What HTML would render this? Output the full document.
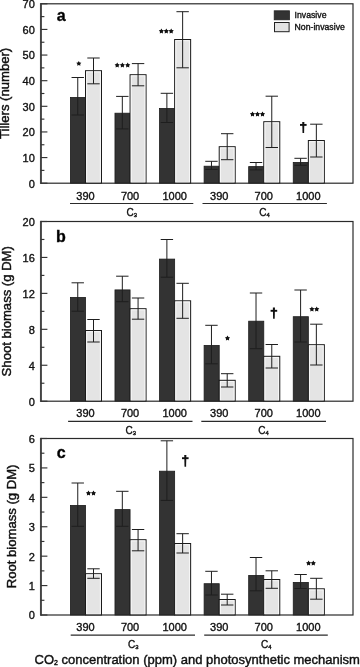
<!DOCTYPE html>
<html><head><meta charset="utf-8"><title>Figure</title>
<style>
html,body{margin:0;padding:0;background:#fff;width:360px;height:667px;overflow:hidden;}
svg{display:block;font-family:"Liberation Sans",sans-serif;will-change:transform;}
</style></head><body>
<svg width="360" height="667" viewBox="0 0 360 667"><rect x="70.40" y="97.40" width="15.10" height="85.80" fill="#333333" stroke="#1c1c1c" stroke-width="0.8"/>
<rect x="85.50" y="70.70" width="16.00" height="112.50" fill="#e4e4e4" stroke="#1a1a1a" stroke-width="1"/>
<rect x="86.70" y="71.90" width="13.60" height="110.50" fill="none" stroke="#f8f8f8" stroke-width="0.9"/>
<line x1="77.75" y1="77.50" x2="77.75" y2="115.00" stroke="#1e1e1e" stroke-width="1"/>
<line x1="71.55" y1="77.50" x2="83.95" y2="77.50" stroke="#1e1e1e" stroke-width="1"/>
<line x1="71.55" y1="115.00" x2="83.95" y2="115.00" stroke="#1e1e1e" stroke-width="1"/>
<line x1="93.50" y1="58.00" x2="93.50" y2="83.80" stroke="#1e1e1e" stroke-width="1"/>
<line x1="87.30" y1="58.00" x2="99.70" y2="58.00" stroke="#1e1e1e" stroke-width="1"/>
<line x1="87.30" y1="83.80" x2="99.70" y2="83.80" stroke="#1e1e1e" stroke-width="1"/>
<rect x="114.97" y="113.20" width="15.10" height="70.00" fill="#333333" stroke="#1c1c1c" stroke-width="0.8"/>
<rect x="130.07" y="74.70" width="16.00" height="108.50" fill="#e4e4e4" stroke="#1a1a1a" stroke-width="1"/>
<rect x="131.27" y="75.90" width="13.60" height="106.50" fill="none" stroke="#f8f8f8" stroke-width="0.9"/>
<line x1="122.32" y1="96.40" x2="122.32" y2="128.90" stroke="#1e1e1e" stroke-width="1"/>
<line x1="116.12" y1="96.40" x2="128.52" y2="96.40" stroke="#1e1e1e" stroke-width="1"/>
<line x1="116.12" y1="128.90" x2="128.52" y2="128.90" stroke="#1e1e1e" stroke-width="1"/>
<line x1="138.07" y1="63.60" x2="138.07" y2="85.80" stroke="#1e1e1e" stroke-width="1"/>
<line x1="131.87" y1="63.60" x2="144.27" y2="63.60" stroke="#1e1e1e" stroke-width="1"/>
<line x1="131.87" y1="85.80" x2="144.27" y2="85.80" stroke="#1e1e1e" stroke-width="1"/>
<rect x="159.54" y="108.40" width="15.10" height="74.80" fill="#333333" stroke="#1c1c1c" stroke-width="0.8"/>
<rect x="174.64" y="39.50" width="16.00" height="143.70" fill="#e4e4e4" stroke="#1a1a1a" stroke-width="1"/>
<rect x="175.84" y="40.70" width="13.60" height="141.70" fill="none" stroke="#f8f8f8" stroke-width="0.9"/>
<line x1="166.89" y1="93.30" x2="166.89" y2="122.50" stroke="#1e1e1e" stroke-width="1"/>
<line x1="160.69" y1="93.30" x2="173.09" y2="93.30" stroke="#1e1e1e" stroke-width="1"/>
<line x1="160.69" y1="122.50" x2="173.09" y2="122.50" stroke="#1e1e1e" stroke-width="1"/>
<line x1="182.64" y1="11.70" x2="182.64" y2="67.80" stroke="#1e1e1e" stroke-width="1"/>
<line x1="176.44" y1="11.70" x2="188.84" y2="11.70" stroke="#1e1e1e" stroke-width="1"/>
<line x1="176.44" y1="67.80" x2="188.84" y2="67.80" stroke="#1e1e1e" stroke-width="1"/>
<rect x="204.11" y="166.20" width="15.10" height="17.00" fill="#333333" stroke="#1c1c1c" stroke-width="0.8"/>
<rect x="219.21" y="146.70" width="16.00" height="36.50" fill="#e4e4e4" stroke="#1a1a1a" stroke-width="1"/>
<rect x="220.41" y="147.90" width="13.60" height="34.50" fill="none" stroke="#f8f8f8" stroke-width="0.9"/>
<line x1="211.46" y1="161.30" x2="211.46" y2="169.40" stroke="#1e1e1e" stroke-width="1"/>
<line x1="205.26" y1="161.30" x2="217.66" y2="161.30" stroke="#1e1e1e" stroke-width="1"/>
<line x1="205.26" y1="169.40" x2="217.66" y2="169.40" stroke="#1e1e1e" stroke-width="1"/>
<line x1="227.21" y1="133.70" x2="227.21" y2="159.70" stroke="#1e1e1e" stroke-width="1"/>
<line x1="221.01" y1="133.70" x2="233.41" y2="133.70" stroke="#1e1e1e" stroke-width="1"/>
<line x1="221.01" y1="159.70" x2="233.41" y2="159.70" stroke="#1e1e1e" stroke-width="1"/>
<rect x="248.68" y="166.60" width="15.10" height="16.60" fill="#333333" stroke="#1c1c1c" stroke-width="0.8"/>
<rect x="263.78" y="121.70" width="16.00" height="61.50" fill="#e4e4e4" stroke="#1a1a1a" stroke-width="1"/>
<rect x="264.98" y="122.90" width="13.60" height="59.50" fill="none" stroke="#f8f8f8" stroke-width="0.9"/>
<line x1="256.03" y1="162.50" x2="256.03" y2="169.90" stroke="#1e1e1e" stroke-width="1"/>
<line x1="249.83" y1="162.50" x2="262.23" y2="162.50" stroke="#1e1e1e" stroke-width="1"/>
<line x1="249.83" y1="169.90" x2="262.23" y2="169.90" stroke="#1e1e1e" stroke-width="1"/>
<line x1="271.78" y1="96.20" x2="271.78" y2="147.50" stroke="#1e1e1e" stroke-width="1"/>
<line x1="265.58" y1="96.20" x2="277.98" y2="96.20" stroke="#1e1e1e" stroke-width="1"/>
<line x1="265.58" y1="147.50" x2="277.98" y2="147.50" stroke="#1e1e1e" stroke-width="1"/>
<rect x="293.25" y="162.40" width="15.10" height="20.80" fill="#333333" stroke="#1c1c1c" stroke-width="0.8"/>
<rect x="308.35" y="140.50" width="16.00" height="42.70" fill="#e4e4e4" stroke="#1a1a1a" stroke-width="1"/>
<rect x="309.55" y="141.70" width="13.60" height="40.70" fill="none" stroke="#f8f8f8" stroke-width="0.9"/>
<line x1="300.60" y1="158.30" x2="300.60" y2="165.30" stroke="#1e1e1e" stroke-width="1"/>
<line x1="294.40" y1="158.30" x2="306.80" y2="158.30" stroke="#1e1e1e" stroke-width="1"/>
<line x1="294.40" y1="165.30" x2="306.80" y2="165.30" stroke="#1e1e1e" stroke-width="1"/>
<line x1="316.35" y1="124.20" x2="316.35" y2="157.00" stroke="#1e1e1e" stroke-width="1"/>
<line x1="310.15" y1="124.20" x2="322.55" y2="124.20" stroke="#1e1e1e" stroke-width="1"/>
<line x1="310.15" y1="157.00" x2="322.55" y2="157.00" stroke="#1e1e1e" stroke-width="1"/>
<rect x="40.80" y="3.80" width="312.20" height="179.40" fill="none" stroke="#2a2a2a" stroke-width="1.2"/>
<line x1="40.90" y1="3.20" x2="40.90" y2="183.80" stroke="#444" stroke-width="1.9"/>
<line x1="40.80" y1="183.20" x2="47.40" y2="183.20" stroke="#333" stroke-width="1.15"/>
<line x1="40.80" y1="170.39" x2="44.40" y2="170.39" stroke="#333" stroke-width="1.15"/>
<line x1="40.80" y1="157.57" x2="47.40" y2="157.57" stroke="#333" stroke-width="1.15"/>
<line x1="40.80" y1="144.76" x2="44.40" y2="144.76" stroke="#333" stroke-width="1.15"/>
<line x1="40.80" y1="131.94" x2="47.40" y2="131.94" stroke="#333" stroke-width="1.15"/>
<line x1="40.80" y1="119.13" x2="44.40" y2="119.13" stroke="#333" stroke-width="1.15"/>
<line x1="40.80" y1="106.31" x2="47.40" y2="106.31" stroke="#333" stroke-width="1.15"/>
<line x1="40.80" y1="93.50" x2="44.40" y2="93.50" stroke="#333" stroke-width="1.15"/>
<line x1="40.80" y1="80.69" x2="47.40" y2="80.69" stroke="#333" stroke-width="1.15"/>
<line x1="40.80" y1="67.87" x2="44.40" y2="67.87" stroke="#333" stroke-width="1.15"/>
<line x1="40.80" y1="55.06" x2="47.40" y2="55.06" stroke="#333" stroke-width="1.15"/>
<line x1="40.80" y1="42.24" x2="44.40" y2="42.24" stroke="#333" stroke-width="1.15"/>
<line x1="40.80" y1="29.43" x2="47.40" y2="29.43" stroke="#333" stroke-width="1.15"/>
<line x1="40.80" y1="16.61" x2="44.40" y2="16.61" stroke="#333" stroke-width="1.15"/>
<line x1="40.80" y1="3.80" x2="47.40" y2="3.80" stroke="#333" stroke-width="1.15"/>
<text x="34.8" y="187.55" font-size="11" text-anchor="end" font-family="'Liberation Sans', sans-serif" stroke="#111" stroke-width="0.36" fill="#111">0</text>
<text x="34.8" y="161.92" font-size="11" text-anchor="end" font-family="'Liberation Sans', sans-serif" stroke="#111" stroke-width="0.36" fill="#111">10</text>
<text x="34.8" y="136.29" font-size="11" text-anchor="end" font-family="'Liberation Sans', sans-serif" stroke="#111" stroke-width="0.36" fill="#111">20</text>
<text x="34.8" y="110.66" font-size="11" text-anchor="end" font-family="'Liberation Sans', sans-serif" stroke="#111" stroke-width="0.36" fill="#111">30</text>
<text x="34.8" y="85.04" font-size="11" text-anchor="end" font-family="'Liberation Sans', sans-serif" stroke="#111" stroke-width="0.36" fill="#111">40</text>
<text x="34.8" y="59.41" font-size="11" text-anchor="end" font-family="'Liberation Sans', sans-serif" stroke="#111" stroke-width="0.36" fill="#111">50</text>
<text x="34.8" y="33.78" font-size="11" text-anchor="end" font-family="'Liberation Sans', sans-serif" stroke="#111" stroke-width="0.36" fill="#111">60</text>
<text x="34.8" y="8.15" font-size="11" text-anchor="end" font-family="'Liberation Sans', sans-serif" stroke="#111" stroke-width="0.36" fill="#111">70</text>
<text x="56.70" y="20.50" font-size="16" font-weight="bold" font-family="'Liberation Sans', sans-serif" stroke="#111" stroke-width="0.36" fill="#000">a</text>
<text x="85.50" y="199.60" font-size="11" text-anchor="middle" font-family="'Liberation Sans', sans-serif" stroke="#111" stroke-width="0.36" fill="#111">390</text>
<text x="130.07" y="199.60" font-size="11" text-anchor="middle" font-family="'Liberation Sans', sans-serif" stroke="#111" stroke-width="0.36" fill="#111">700</text>
<text x="174.64" y="199.60" font-size="11" text-anchor="middle" font-family="'Liberation Sans', sans-serif" stroke="#111" stroke-width="0.36" fill="#111">1000</text>
<text x="219.21" y="199.60" font-size="11" text-anchor="middle" font-family="'Liberation Sans', sans-serif" stroke="#111" stroke-width="0.36" fill="#111">390</text>
<text x="263.78" y="199.60" font-size="11" text-anchor="middle" font-family="'Liberation Sans', sans-serif" stroke="#111" stroke-width="0.36" fill="#111">700</text>
<text x="308.35" y="199.60" font-size="11" text-anchor="middle" font-family="'Liberation Sans', sans-serif" stroke="#111" stroke-width="0.36" fill="#111">1000</text>
<line x1="70.00" y1="203.50" x2="193.30" y2="203.50" stroke="#2a2a2a" stroke-width="1.2"/>
<line x1="202.50" y1="203.50" x2="326.90" y2="203.50" stroke="#2a2a2a" stroke-width="1.2"/>
<text x="126.40" y="215.60" font-size="10" font-family="'Liberation Sans', sans-serif" stroke="#111" stroke-width="0.36" fill="#111">C<tspan font-size="5.9" dy="1.1">3</tspan></text>
<text x="259.20" y="215.60" font-size="10" font-family="'Liberation Sans', sans-serif" stroke="#111" stroke-width="0.36" fill="#111">C<tspan font-size="5.9" dy="1.1">4</tspan></text>
<text transform="translate(9.40 93.40) rotate(-90)" x="0" y="0" font-size="13.1" text-anchor="middle" font-family="'Liberation Sans', sans-serif" stroke="#111" stroke-width="0.44" fill="#111">Tillers (number)</text>
<polygon points="78.80,60.90 79.67,62.40 81.37,62.77 80.21,64.06 80.39,65.78 78.80,65.09 77.21,65.78 77.39,64.06 76.23,62.77 77.93,62.40" fill="#111"/>
<polygon points="117.20,62.60 118.07,64.10 119.77,64.47 118.61,65.76 118.79,67.48 117.20,66.78 115.61,67.48 115.79,65.76 114.63,64.47 116.33,64.10" fill="#111"/>
<polygon points="122.40,62.60 123.27,64.10 124.97,64.47 123.81,65.76 123.99,67.48 122.40,66.78 120.81,67.48 120.99,65.76 119.83,64.47 121.53,64.10" fill="#111"/>
<polygon points="127.70,62.60 128.57,64.10 130.27,64.47 129.11,65.76 129.29,67.48 127.70,66.78 126.11,67.48 126.29,65.76 125.13,64.47 126.83,64.10" fill="#111"/>
<polygon points="161.40,28.50 162.27,30.00 163.97,30.37 162.81,31.66 162.99,33.38 161.40,32.69 159.81,33.38 159.99,31.66 158.83,30.37 160.53,30.00" fill="#111"/>
<polygon points="166.30,28.50 167.17,30.00 168.87,30.37 167.71,31.66 167.89,33.38 166.30,32.69 164.71,33.38 164.89,31.66 163.73,30.37 165.43,30.00" fill="#111"/>
<polygon points="171.20,28.50 172.07,30.00 173.77,30.37 172.61,31.66 172.79,33.38 171.20,32.69 169.61,33.38 169.79,31.66 168.63,30.37 170.33,30.00" fill="#111"/>
<polygon points="252.50,111.50 253.37,113.00 255.07,113.37 253.91,114.66 254.09,116.38 252.50,115.69 250.91,116.38 251.09,114.66 249.93,113.37 251.63,113.00" fill="#111"/>
<polygon points="257.50,111.50 258.37,113.00 260.07,113.37 258.91,114.66 259.09,116.38 257.50,115.69 255.91,116.38 256.09,114.66 254.93,113.37 256.63,113.00" fill="#111"/>
<polygon points="262.50,111.50 263.37,113.00 265.07,113.37 263.91,114.66 264.09,116.38 262.50,115.69 260.91,116.38 261.09,114.66 259.93,113.37 261.63,113.00" fill="#111"/>
<path d="M302.25 122.00 L304.35 122.00 L304.10 133.00 L302.50 133.00 Z" fill="#111"/><rect x="300.00" y="123.95" width="6.6" height="1.9" fill="#111"/>
<rect x="70.40" y="297.40" width="15.10" height="103.80" fill="#333333" stroke="#1c1c1c" stroke-width="0.8"/>
<rect x="85.50" y="330.50" width="16.00" height="70.70" fill="#e4e4e4" stroke="#1a1a1a" stroke-width="1"/>
<rect x="86.70" y="331.70" width="13.60" height="68.70" fill="none" stroke="#f8f8f8" stroke-width="0.9"/>
<line x1="77.75" y1="282.80" x2="77.75" y2="311.20" stroke="#1e1e1e" stroke-width="1"/>
<line x1="71.55" y1="282.80" x2="83.95" y2="282.80" stroke="#1e1e1e" stroke-width="1"/>
<line x1="71.55" y1="311.20" x2="83.95" y2="311.20" stroke="#1e1e1e" stroke-width="1"/>
<line x1="93.50" y1="319.50" x2="93.50" y2="342.00" stroke="#1e1e1e" stroke-width="1"/>
<line x1="87.30" y1="319.50" x2="99.70" y2="319.50" stroke="#1e1e1e" stroke-width="1"/>
<line x1="87.30" y1="342.00" x2="99.70" y2="342.00" stroke="#1e1e1e" stroke-width="1"/>
<rect x="114.97" y="289.90" width="15.10" height="111.30" fill="#333333" stroke="#1c1c1c" stroke-width="0.8"/>
<rect x="130.07" y="308.70" width="16.00" height="92.50" fill="#e4e4e4" stroke="#1a1a1a" stroke-width="1"/>
<rect x="131.27" y="309.90" width="13.60" height="90.50" fill="none" stroke="#f8f8f8" stroke-width="0.9"/>
<line x1="122.32" y1="276.20" x2="122.32" y2="301.70" stroke="#1e1e1e" stroke-width="1"/>
<line x1="116.12" y1="276.20" x2="128.52" y2="276.20" stroke="#1e1e1e" stroke-width="1"/>
<line x1="116.12" y1="301.70" x2="128.52" y2="301.70" stroke="#1e1e1e" stroke-width="1"/>
<line x1="138.07" y1="298.00" x2="138.07" y2="319.20" stroke="#1e1e1e" stroke-width="1"/>
<line x1="131.87" y1="298.00" x2="144.27" y2="298.00" stroke="#1e1e1e" stroke-width="1"/>
<line x1="131.87" y1="319.20" x2="144.27" y2="319.20" stroke="#1e1e1e" stroke-width="1"/>
<rect x="159.54" y="259.10" width="15.10" height="142.10" fill="#333333" stroke="#1c1c1c" stroke-width="0.8"/>
<rect x="174.64" y="300.80" width="16.00" height="100.40" fill="#e4e4e4" stroke="#1a1a1a" stroke-width="1"/>
<rect x="175.84" y="302.00" width="13.60" height="98.40" fill="none" stroke="#f8f8f8" stroke-width="0.9"/>
<line x1="166.89" y1="239.50" x2="166.89" y2="277.20" stroke="#1e1e1e" stroke-width="1"/>
<line x1="160.69" y1="239.50" x2="173.09" y2="239.50" stroke="#1e1e1e" stroke-width="1"/>
<line x1="160.69" y1="277.20" x2="173.09" y2="277.20" stroke="#1e1e1e" stroke-width="1"/>
<line x1="182.64" y1="283.30" x2="182.64" y2="318.30" stroke="#1e1e1e" stroke-width="1"/>
<line x1="176.44" y1="283.30" x2="188.84" y2="283.30" stroke="#1e1e1e" stroke-width="1"/>
<line x1="176.44" y1="318.30" x2="188.84" y2="318.30" stroke="#1e1e1e" stroke-width="1"/>
<rect x="204.11" y="345.40" width="15.10" height="55.80" fill="#333333" stroke="#1c1c1c" stroke-width="0.8"/>
<rect x="219.21" y="380.30" width="16.00" height="20.90" fill="#e4e4e4" stroke="#1a1a1a" stroke-width="1"/>
<rect x="220.41" y="381.50" width="13.60" height="18.90" fill="none" stroke="#f8f8f8" stroke-width="0.9"/>
<line x1="211.46" y1="325.30" x2="211.46" y2="363.80" stroke="#1e1e1e" stroke-width="1"/>
<line x1="205.26" y1="325.30" x2="217.66" y2="325.30" stroke="#1e1e1e" stroke-width="1"/>
<line x1="205.26" y1="363.80" x2="217.66" y2="363.80" stroke="#1e1e1e" stroke-width="1"/>
<line x1="227.21" y1="373.70" x2="227.21" y2="387.00" stroke="#1e1e1e" stroke-width="1"/>
<line x1="221.01" y1="373.70" x2="233.41" y2="373.70" stroke="#1e1e1e" stroke-width="1"/>
<line x1="221.01" y1="387.00" x2="233.41" y2="387.00" stroke="#1e1e1e" stroke-width="1"/>
<rect x="248.68" y="321.20" width="15.10" height="80.00" fill="#333333" stroke="#1c1c1c" stroke-width="0.8"/>
<rect x="263.78" y="356.30" width="16.00" height="44.90" fill="#e4e4e4" stroke="#1a1a1a" stroke-width="1"/>
<rect x="264.98" y="357.50" width="13.60" height="42.90" fill="none" stroke="#f8f8f8" stroke-width="0.9"/>
<line x1="256.03" y1="293.00" x2="256.03" y2="348.70" stroke="#1e1e1e" stroke-width="1"/>
<line x1="249.83" y1="293.00" x2="262.23" y2="293.00" stroke="#1e1e1e" stroke-width="1"/>
<line x1="249.83" y1="348.70" x2="262.23" y2="348.70" stroke="#1e1e1e" stroke-width="1"/>
<line x1="271.78" y1="344.50" x2="271.78" y2="368.00" stroke="#1e1e1e" stroke-width="1"/>
<line x1="265.58" y1="344.50" x2="277.98" y2="344.50" stroke="#1e1e1e" stroke-width="1"/>
<line x1="265.58" y1="368.00" x2="277.98" y2="368.00" stroke="#1e1e1e" stroke-width="1"/>
<rect x="293.25" y="316.70" width="15.10" height="84.50" fill="#333333" stroke="#1c1c1c" stroke-width="0.8"/>
<rect x="308.35" y="344.70" width="16.00" height="56.50" fill="#e4e4e4" stroke="#1a1a1a" stroke-width="1"/>
<rect x="309.55" y="345.90" width="13.60" height="54.50" fill="none" stroke="#f8f8f8" stroke-width="0.9"/>
<line x1="300.60" y1="290.00" x2="300.60" y2="342.00" stroke="#1e1e1e" stroke-width="1"/>
<line x1="294.40" y1="290.00" x2="306.80" y2="290.00" stroke="#1e1e1e" stroke-width="1"/>
<line x1="294.40" y1="342.00" x2="306.80" y2="342.00" stroke="#1e1e1e" stroke-width="1"/>
<line x1="316.35" y1="324.20" x2="316.35" y2="365.00" stroke="#1e1e1e" stroke-width="1"/>
<line x1="310.15" y1="324.20" x2="322.55" y2="324.20" stroke="#1e1e1e" stroke-width="1"/>
<line x1="310.15" y1="365.00" x2="322.55" y2="365.00" stroke="#1e1e1e" stroke-width="1"/>
<rect x="40.80" y="221.50" width="312.20" height="179.70" fill="none" stroke="#2a2a2a" stroke-width="1.2"/>
<line x1="40.90" y1="220.90" x2="40.90" y2="401.80" stroke="#444" stroke-width="1.9"/>
<line x1="40.80" y1="401.20" x2="47.40" y2="401.20" stroke="#333" stroke-width="1.15"/>
<line x1="40.80" y1="383.23" x2="44.40" y2="383.23" stroke="#333" stroke-width="1.15"/>
<line x1="40.80" y1="365.26" x2="47.40" y2="365.26" stroke="#333" stroke-width="1.15"/>
<line x1="40.80" y1="347.29" x2="44.40" y2="347.29" stroke="#333" stroke-width="1.15"/>
<line x1="40.80" y1="329.32" x2="47.40" y2="329.32" stroke="#333" stroke-width="1.15"/>
<line x1="40.80" y1="311.35" x2="44.40" y2="311.35" stroke="#333" stroke-width="1.15"/>
<line x1="40.80" y1="293.38" x2="47.40" y2="293.38" stroke="#333" stroke-width="1.15"/>
<line x1="40.80" y1="275.41" x2="44.40" y2="275.41" stroke="#333" stroke-width="1.15"/>
<line x1="40.80" y1="257.44" x2="47.40" y2="257.44" stroke="#333" stroke-width="1.15"/>
<line x1="40.80" y1="239.47" x2="44.40" y2="239.47" stroke="#333" stroke-width="1.15"/>
<line x1="40.80" y1="221.50" x2="47.40" y2="221.50" stroke="#333" stroke-width="1.15"/>
<text x="34.8" y="405.55" font-size="11" text-anchor="end" font-family="'Liberation Sans', sans-serif" stroke="#111" stroke-width="0.36" fill="#111">0</text>
<text x="34.8" y="369.61" font-size="11" text-anchor="end" font-family="'Liberation Sans', sans-serif" stroke="#111" stroke-width="0.36" fill="#111">4</text>
<text x="34.8" y="333.67" font-size="11" text-anchor="end" font-family="'Liberation Sans', sans-serif" stroke="#111" stroke-width="0.36" fill="#111">8</text>
<text x="34.8" y="297.73" font-size="11" text-anchor="end" font-family="'Liberation Sans', sans-serif" stroke="#111" stroke-width="0.36" fill="#111">12</text>
<text x="34.8" y="261.79" font-size="11" text-anchor="end" font-family="'Liberation Sans', sans-serif" stroke="#111" stroke-width="0.36" fill="#111">16</text>
<text x="34.8" y="225.85" font-size="11" text-anchor="end" font-family="'Liberation Sans', sans-serif" stroke="#111" stroke-width="0.36" fill="#111">20</text>
<text x="55.90" y="241.90" font-size="16" font-weight="bold" font-family="'Liberation Sans', sans-serif" stroke="#111" stroke-width="0.36" fill="#000">b</text>
<text x="85.50" y="417.10" font-size="11" text-anchor="middle" font-family="'Liberation Sans', sans-serif" stroke="#111" stroke-width="0.36" fill="#111">390</text>
<text x="130.07" y="417.10" font-size="11" text-anchor="middle" font-family="'Liberation Sans', sans-serif" stroke="#111" stroke-width="0.36" fill="#111">700</text>
<text x="174.64" y="417.10" font-size="11" text-anchor="middle" font-family="'Liberation Sans', sans-serif" stroke="#111" stroke-width="0.36" fill="#111">1000</text>
<text x="219.21" y="417.10" font-size="11" text-anchor="middle" font-family="'Liberation Sans', sans-serif" stroke="#111" stroke-width="0.36" fill="#111">390</text>
<text x="263.78" y="417.10" font-size="11" text-anchor="middle" font-family="'Liberation Sans', sans-serif" stroke="#111" stroke-width="0.36" fill="#111">700</text>
<text x="308.35" y="417.10" font-size="11" text-anchor="middle" font-family="'Liberation Sans', sans-serif" stroke="#111" stroke-width="0.36" fill="#111">1000</text>
<line x1="68.10" y1="421.30" x2="192.50" y2="421.30" stroke="#2a2a2a" stroke-width="1.2"/>
<line x1="201.30" y1="421.30" x2="326.00" y2="421.30" stroke="#2a2a2a" stroke-width="1.2"/>
<text x="125.50" y="434.00" font-size="10" font-family="'Liberation Sans', sans-serif" stroke="#111" stroke-width="0.36" fill="#111">C<tspan font-size="5.9" dy="1.1">3</tspan></text>
<text x="258.20" y="434.00" font-size="10" font-family="'Liberation Sans', sans-serif" stroke="#111" stroke-width="0.36" fill="#111">C<tspan font-size="5.9" dy="1.1">4</tspan></text>
<text transform="translate(10.50 311.25) rotate(-90)" x="0" y="0" font-size="13.1" text-anchor="middle" font-family="'Liberation Sans', sans-serif" stroke="#111" stroke-width="0.44" fill="#111">Shoot biomass (g DM)</text>
<polygon points="227.50,335.60 228.37,337.10 230.07,337.47 228.91,338.76 229.09,340.48 227.50,339.79 225.91,340.48 226.09,338.76 224.93,337.47 226.63,337.10" fill="#111"/>
<path d="M272.85 307.40 L274.95 307.40 L274.70 318.80 L273.10 318.80 Z" fill="#111"/><rect x="270.60" y="309.85" width="6.6" height="1.9" fill="#111"/>
<polygon points="311.90,306.50 312.77,308.00 314.47,308.37 313.31,309.66 313.49,311.38 311.90,310.69 310.31,311.38 310.49,309.66 309.33,308.37 311.03,308.00" fill="#111"/>
<polygon points="316.70,306.50 317.57,308.00 319.27,308.37 318.11,309.66 318.29,311.38 316.70,310.69 315.11,311.38 315.29,309.66 314.13,308.37 315.83,308.00" fill="#111"/>
<rect x="70.40" y="505.40" width="15.10" height="109.60" fill="#333333" stroke="#1c1c1c" stroke-width="0.8"/>
<rect x="85.50" y="573.70" width="16.00" height="41.30" fill="#e4e4e4" stroke="#1a1a1a" stroke-width="1"/>
<rect x="86.70" y="574.90" width="13.60" height="39.30" fill="none" stroke="#f8f8f8" stroke-width="0.9"/>
<line x1="77.75" y1="483.00" x2="77.75" y2="526.30" stroke="#1e1e1e" stroke-width="1"/>
<line x1="71.55" y1="483.00" x2="83.95" y2="483.00" stroke="#1e1e1e" stroke-width="1"/>
<line x1="71.55" y1="526.30" x2="83.95" y2="526.30" stroke="#1e1e1e" stroke-width="1"/>
<line x1="93.50" y1="568.80" x2="93.50" y2="578.30" stroke="#1e1e1e" stroke-width="1"/>
<line x1="87.30" y1="568.80" x2="99.70" y2="568.80" stroke="#1e1e1e" stroke-width="1"/>
<line x1="87.30" y1="578.30" x2="99.70" y2="578.30" stroke="#1e1e1e" stroke-width="1"/>
<rect x="114.97" y="509.60" width="15.10" height="105.40" fill="#333333" stroke="#1c1c1c" stroke-width="0.8"/>
<rect x="130.07" y="539.70" width="16.00" height="75.30" fill="#e4e4e4" stroke="#1a1a1a" stroke-width="1"/>
<rect x="131.27" y="540.90" width="13.60" height="73.30" fill="none" stroke="#f8f8f8" stroke-width="0.9"/>
<line x1="122.32" y1="491.30" x2="122.32" y2="526.30" stroke="#1e1e1e" stroke-width="1"/>
<line x1="116.12" y1="491.30" x2="128.52" y2="491.30" stroke="#1e1e1e" stroke-width="1"/>
<line x1="116.12" y1="526.30" x2="128.52" y2="526.30" stroke="#1e1e1e" stroke-width="1"/>
<line x1="138.07" y1="529.50" x2="138.07" y2="550.80" stroke="#1e1e1e" stroke-width="1"/>
<line x1="131.87" y1="529.50" x2="144.27" y2="529.50" stroke="#1e1e1e" stroke-width="1"/>
<line x1="131.87" y1="550.80" x2="144.27" y2="550.80" stroke="#1e1e1e" stroke-width="1"/>
<rect x="159.54" y="471.20" width="15.10" height="143.80" fill="#333333" stroke="#1c1c1c" stroke-width="0.8"/>
<rect x="174.64" y="543.50" width="16.00" height="71.50" fill="#e4e4e4" stroke="#1a1a1a" stroke-width="1"/>
<rect x="175.84" y="544.70" width="13.60" height="69.50" fill="none" stroke="#f8f8f8" stroke-width="0.9"/>
<line x1="166.89" y1="440.80" x2="166.89" y2="500.40" stroke="#1e1e1e" stroke-width="1"/>
<line x1="160.69" y1="440.80" x2="173.09" y2="440.80" stroke="#1e1e1e" stroke-width="1"/>
<line x1="160.69" y1="500.40" x2="173.09" y2="500.40" stroke="#1e1e1e" stroke-width="1"/>
<line x1="182.64" y1="533.70" x2="182.64" y2="553.00" stroke="#1e1e1e" stroke-width="1"/>
<line x1="176.44" y1="533.70" x2="188.84" y2="533.70" stroke="#1e1e1e" stroke-width="1"/>
<line x1="176.44" y1="553.00" x2="188.84" y2="553.00" stroke="#1e1e1e" stroke-width="1"/>
<rect x="204.11" y="583.70" width="15.10" height="31.30" fill="#333333" stroke="#1c1c1c" stroke-width="0.8"/>
<rect x="219.21" y="599.50" width="16.00" height="15.50" fill="#e4e4e4" stroke="#1a1a1a" stroke-width="1"/>
<rect x="220.41" y="600.70" width="13.60" height="13.50" fill="none" stroke="#f8f8f8" stroke-width="0.9"/>
<line x1="211.46" y1="571.30" x2="211.46" y2="595.00" stroke="#1e1e1e" stroke-width="1"/>
<line x1="205.26" y1="571.30" x2="217.66" y2="571.30" stroke="#1e1e1e" stroke-width="1"/>
<line x1="205.26" y1="595.00" x2="217.66" y2="595.00" stroke="#1e1e1e" stroke-width="1"/>
<line x1="227.21" y1="594.20" x2="227.21" y2="605.00" stroke="#1e1e1e" stroke-width="1"/>
<line x1="221.01" y1="594.20" x2="233.41" y2="594.20" stroke="#1e1e1e" stroke-width="1"/>
<line x1="221.01" y1="605.00" x2="233.41" y2="605.00" stroke="#1e1e1e" stroke-width="1"/>
<rect x="248.68" y="575.40" width="15.10" height="39.60" fill="#333333" stroke="#1c1c1c" stroke-width="0.8"/>
<rect x="263.78" y="579.50" width="16.00" height="35.50" fill="#e4e4e4" stroke="#1a1a1a" stroke-width="1"/>
<rect x="264.98" y="580.70" width="13.60" height="33.50" fill="none" stroke="#f8f8f8" stroke-width="0.9"/>
<line x1="256.03" y1="557.50" x2="256.03" y2="590.80" stroke="#1e1e1e" stroke-width="1"/>
<line x1="249.83" y1="557.50" x2="262.23" y2="557.50" stroke="#1e1e1e" stroke-width="1"/>
<line x1="249.83" y1="590.80" x2="262.23" y2="590.80" stroke="#1e1e1e" stroke-width="1"/>
<line x1="271.78" y1="570.80" x2="271.78" y2="588.30" stroke="#1e1e1e" stroke-width="1"/>
<line x1="265.58" y1="570.80" x2="277.98" y2="570.80" stroke="#1e1e1e" stroke-width="1"/>
<line x1="265.58" y1="588.30" x2="277.98" y2="588.30" stroke="#1e1e1e" stroke-width="1"/>
<rect x="293.25" y="582.40" width="15.10" height="32.60" fill="#333333" stroke="#1c1c1c" stroke-width="0.8"/>
<rect x="308.35" y="588.80" width="16.00" height="26.20" fill="#e4e4e4" stroke="#1a1a1a" stroke-width="1"/>
<rect x="309.55" y="590.00" width="13.60" height="24.20" fill="none" stroke="#f8f8f8" stroke-width="0.9"/>
<line x1="300.60" y1="574.50" x2="300.60" y2="588.50" stroke="#1e1e1e" stroke-width="1"/>
<line x1="294.40" y1="574.50" x2="306.80" y2="574.50" stroke="#1e1e1e" stroke-width="1"/>
<line x1="294.40" y1="588.50" x2="306.80" y2="588.50" stroke="#1e1e1e" stroke-width="1"/>
<line x1="316.35" y1="578.30" x2="316.35" y2="599.20" stroke="#1e1e1e" stroke-width="1"/>
<line x1="310.15" y1="578.30" x2="322.55" y2="578.30" stroke="#1e1e1e" stroke-width="1"/>
<line x1="310.15" y1="599.20" x2="322.55" y2="599.20" stroke="#1e1e1e" stroke-width="1"/>
<rect x="40.80" y="438.50" width="312.20" height="176.50" fill="none" stroke="#2a2a2a" stroke-width="1.2"/>
<line x1="40.90" y1="437.90" x2="40.90" y2="615.60" stroke="#444" stroke-width="1.9"/>
<line x1="40.80" y1="615.00" x2="47.40" y2="615.00" stroke="#333" stroke-width="1.15"/>
<line x1="40.80" y1="600.29" x2="44.40" y2="600.29" stroke="#333" stroke-width="1.15"/>
<line x1="40.80" y1="585.58" x2="47.40" y2="585.58" stroke="#333" stroke-width="1.15"/>
<line x1="40.80" y1="570.88" x2="44.40" y2="570.88" stroke="#333" stroke-width="1.15"/>
<line x1="40.80" y1="556.17" x2="47.40" y2="556.17" stroke="#333" stroke-width="1.15"/>
<line x1="40.80" y1="541.46" x2="44.40" y2="541.46" stroke="#333" stroke-width="1.15"/>
<line x1="40.80" y1="526.75" x2="47.40" y2="526.75" stroke="#333" stroke-width="1.15"/>
<line x1="40.80" y1="512.04" x2="44.40" y2="512.04" stroke="#333" stroke-width="1.15"/>
<line x1="40.80" y1="497.33" x2="47.40" y2="497.33" stroke="#333" stroke-width="1.15"/>
<line x1="40.80" y1="482.62" x2="44.40" y2="482.62" stroke="#333" stroke-width="1.15"/>
<line x1="40.80" y1="467.92" x2="47.40" y2="467.92" stroke="#333" stroke-width="1.15"/>
<line x1="40.80" y1="453.21" x2="44.40" y2="453.21" stroke="#333" stroke-width="1.15"/>
<line x1="40.80" y1="438.50" x2="47.40" y2="438.50" stroke="#333" stroke-width="1.15"/>
<text x="34.8" y="619.35" font-size="11" text-anchor="end" font-family="'Liberation Sans', sans-serif" stroke="#111" stroke-width="0.36" fill="#111">0</text>
<text x="34.8" y="589.93" font-size="11" text-anchor="end" font-family="'Liberation Sans', sans-serif" stroke="#111" stroke-width="0.36" fill="#111">1</text>
<text x="34.8" y="560.52" font-size="11" text-anchor="end" font-family="'Liberation Sans', sans-serif" stroke="#111" stroke-width="0.36" fill="#111">2</text>
<text x="34.8" y="531.10" font-size="11" text-anchor="end" font-family="'Liberation Sans', sans-serif" stroke="#111" stroke-width="0.36" fill="#111">3</text>
<text x="34.8" y="501.68" font-size="11" text-anchor="end" font-family="'Liberation Sans', sans-serif" stroke="#111" stroke-width="0.36" fill="#111">4</text>
<text x="34.8" y="472.27" font-size="11" text-anchor="end" font-family="'Liberation Sans', sans-serif" stroke="#111" stroke-width="0.36" fill="#111">5</text>
<text x="34.8" y="442.85" font-size="11" text-anchor="end" font-family="'Liberation Sans', sans-serif" stroke="#111" stroke-width="0.36" fill="#111">6</text>
<text x="56.80" y="457.50" font-size="16" font-weight="bold" font-family="'Liberation Sans', sans-serif" stroke="#111" stroke-width="0.36" fill="#000">c</text>
<text x="85.50" y="631.20" font-size="11" text-anchor="middle" font-family="'Liberation Sans', sans-serif" stroke="#111" stroke-width="0.36" fill="#111">390</text>
<text x="130.07" y="631.20" font-size="11" text-anchor="middle" font-family="'Liberation Sans', sans-serif" stroke="#111" stroke-width="0.36" fill="#111">700</text>
<text x="174.64" y="631.20" font-size="11" text-anchor="middle" font-family="'Liberation Sans', sans-serif" stroke="#111" stroke-width="0.36" fill="#111">1000</text>
<text x="219.21" y="631.20" font-size="11" text-anchor="middle" font-family="'Liberation Sans', sans-serif" stroke="#111" stroke-width="0.36" fill="#111">390</text>
<text x="263.78" y="631.20" font-size="11" text-anchor="middle" font-family="'Liberation Sans', sans-serif" stroke="#111" stroke-width="0.36" fill="#111">700</text>
<text x="308.35" y="631.20" font-size="11" text-anchor="middle" font-family="'Liberation Sans', sans-serif" stroke="#111" stroke-width="0.36" fill="#111">1000</text>
<line x1="70.70" y1="635.10" x2="195.00" y2="635.10" stroke="#2a2a2a" stroke-width="1.2"/>
<line x1="204.20" y1="635.10" x2="327.80" y2="635.10" stroke="#2a2a2a" stroke-width="1.2"/>
<text x="127.90" y="648.20" font-size="10" font-family="'Liberation Sans', sans-serif" stroke="#111" stroke-width="0.36" fill="#111">C<tspan font-size="5.9" dy="1.1">3</tspan></text>
<text x="260.90" y="648.20" font-size="10" font-family="'Liberation Sans', sans-serif" stroke="#111" stroke-width="0.36" fill="#111">C<tspan font-size="5.9" dy="1.1">4</tspan></text>
<text transform="translate(15.90 526.40) rotate(-90)" x="0" y="0" font-size="13.1" text-anchor="middle" font-family="'Liberation Sans', sans-serif" stroke="#111" stroke-width="0.44" fill="#111">Root biomass (g DM)</text>
<polygon points="88.50,490.60 89.37,492.10 91.07,492.47 89.91,493.76 90.09,495.48 88.50,494.79 86.91,495.48 87.09,493.76 85.93,492.47 87.63,492.10" fill="#111"/>
<polygon points="93.50,490.60 94.37,492.10 96.07,492.47 94.91,493.76 95.09,495.48 93.50,494.79 91.91,495.48 92.09,493.76 90.93,492.47 92.63,492.10" fill="#111"/>
<path d="M184.25 454.90 L186.35 454.90 L186.10 466.80 L184.50 466.80 Z" fill="#111"/><rect x="182.00" y="457.25" width="6.6" height="1.9" fill="#111"/>
<polygon points="308.60,560.60 309.47,562.10 311.17,562.47 310.01,563.76 310.19,565.48 308.60,564.78 307.01,565.48 307.19,563.76 306.03,562.47 307.73,562.10" fill="#111"/>
<polygon points="313.30,560.60 314.17,562.10 315.87,562.47 314.71,563.76 314.89,565.48 313.30,564.78 311.71,565.48 311.89,563.76 310.73,562.47 312.43,562.10" fill="#111"/>
<rect x="274.2" y="10.8" width="15.2" height="9" fill="#333333" stroke="#222" stroke-width="0.8"/>
<rect x="274.5" y="22.5" width="14.6" height="9.2" fill="#e4e4e4" stroke="#222" stroke-width="1"/>
<text x="294.6" y="18.4" font-size="8.7" font-family="'Liberation Sans', sans-serif" stroke="#111" stroke-width="0.36" fill="#111">Invasive</text>
<text x="294.6" y="30.4" font-size="8.7" font-family="'Liberation Sans', sans-serif" stroke="#111" stroke-width="0.36" fill="#111">Non-invasive</text>
<text x="34.5" y="664.2" font-size="13" font-family="'Liberation Sans', sans-serif" stroke="#111" stroke-width="0.42" fill="#111">CO<tspan font-size="7" dy="0.4">2</tspan><tspan dy="-0.4"> concentration (ppm) and photosynthetic mechanism</tspan></text></svg>
</body></html>
